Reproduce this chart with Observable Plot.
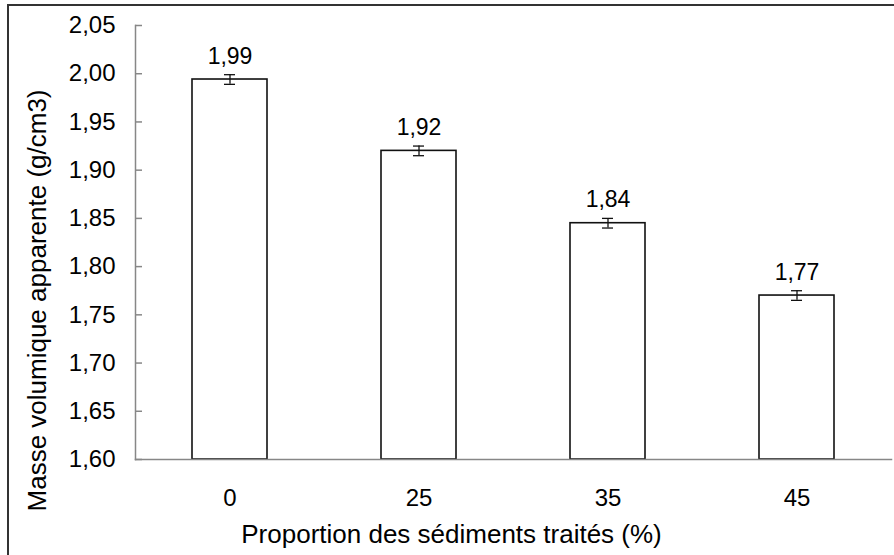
<!DOCTYPE html>
<html>
<head>
<meta charset="utf-8">
<script src="https://cdn.jsdelivr.net/npm/d3@7"></script>
<script src="https://cdn.jsdelivr.net/npm/@observablehq/plot@0.6"></script>
<style>
  html, body { margin: 0; padding: 0; background: #fff; overflow: hidden; }
  #wrap { position: relative; width: 894px; height: 555px; overflow: hidden; }
  #border { position: absolute; left: 7px; top: 4px; width: 1000px; height: 1000px; border-top: 2px solid #333; border-left: 2px solid #333; pointer-events: none; }
  #chart { position: absolute; left: 0; top: 0; }
</style>
</head>
<body>
<div id="wrap"><div id="chart"></div><div id="border"></div></div>
<script>
const categories = ["0", "25", "35", "45"];
const values = [1.994, 1.920, 1.845, 1.770];
const errors = [0.005, 0.005, 0.005, 0.005];
const valueLabels = ["1,99", "1,92", "1,84", "1,77"];
const yTicks = [1.60, 1.65, 1.70, 1.75, 1.80, 1.85, 1.90, 1.95, 2.00, 2.05];
const yBase = 1.60;
const xTitle = "Proportion des sédiments traités (%)";
const yTitle = "Masse volumique apparente (g/cm3)";

const data = categories.map((c, i) => ({cat: c, v: values[i], e: errors[i], label: valueLabels[i]}));
const fmt = d => d.toFixed(2).replace(".", ",");
const axisGray = "#878787";

const chart = Plot.plot({
  width: 894,
  height: 555,
  marginLeft: 135,
  marginRight: 3,
  marginTop: 25,
  marginBottom: 96,
  style: {fontFamily: "Liberation Sans, Arial, sans-serif", fontSize: "24px", color: "#000", background: "transparent"},
  x: {domain: categories, padding: 0, label: null},
  y: {domain: [1.60, 2.05], label: null},
  marks: [
    Plot.axisY({ticks: yTicks, tickFormat: fmt, tickSize: 7, insetLeft: 7, tickPadding: 20, stroke: axisGray, strokeWidth: 1.5, fontSize: 24, fill: "#000", label: null}),
    Plot.axisX({tickSize: 0, tickPadding: 29, fontSize: 24, fill: "#000", label: null}),
    Plot.barY(data, {x: "cat", y1: () => yBase, y2: "v", fill: "white", stroke: "#111", strokeWidth: 1.6, insetLeft: 57, insetRight: 57}),
    Plot.ruleX(data, {x: "cat", y1: d => d.v - d.e, y2: d => d.v + d.e, stroke: "#111", strokeWidth: 1.3}),
    Plot.tickY(data, {x: "cat", y: d => d.v + d.e, stroke: "#111", strokeWidth: 1.3, insetLeft: 89, insetRight: 89}),
    Plot.tickY(data, {x: "cat", y: d => d.v - d.e, stroke: "#111", strokeWidth: 1.3, insetLeft: 89, insetRight: 89}),
    Plot.text(data, {x: "cat", y: d => d.v + d.e, text: "label", lineAnchor: "bottom", dy: -11, fontSize: 23, fill: "#000"}),
    Plot.frame({anchor: "left", stroke: axisGray, strokeWidth: 1.5}),
    Plot.frame({anchor: "bottom", stroke: axisGray, strokeWidth: 1.5}),
    Plot.text([xTitle], {frameAnchor: "bottom", text: d => d, textAnchor: "middle", dx: -62, dy: 75, lineAnchor: "middle", fontSize: 26, fill: "#000"}),
    Plot.text([yTitle], {frameAnchor: "left", text: d => d, rotate: -90, textAnchor: "middle", dx: -98, dy: 58, lineAnchor: "middle", fontSize: 26, fill: "#000"})
  ]
});
document.getElementById("chart").appendChild(chart);
</script>
</body>
</html>
